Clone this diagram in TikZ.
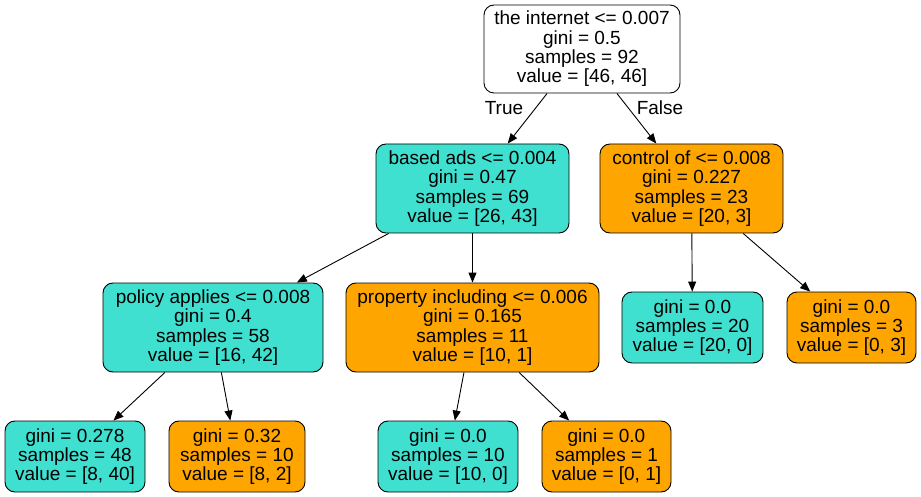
\documentclass[tikz,border=0pt]{standalone}
\usepackage{fontspec}
\setmainfont{Liberation Sans}
\usetikzlibrary{arrows.meta}
\definecolor{turq}{HTML}{40E0D0}
\definecolor{orng}{HTML}{FFA500}
\tikzset{
  tnode/.style={draw=black, line width=0.9pt, rounded corners=10pt, align=center,
    inner sep=0pt, font=\fontsize{19}{19.3}\selectfont},
  turqbox/.style={tnode, fill=turq},
  orngbox/.style={tnode, fill=orng},
  whitebox/.style={tnode, fill=white},
  edge/.style={draw=black, line width=0.9pt, -{Triangle[length=10pt,width=8pt]}},
  elabel/.style={font=\fontsize{19}{19.3}\selectfont}
}
\begin{document}
\begin{tikzpicture}[x=1pt,y=-1pt]
\useasboundingbox[fill=white] (0,0) rectangle (921,497);
\node[whitebox, minimum width=196pt, minimum height=88pt] (root) at (582,49)
  {the internet <= 0.007\\gini = 0.5\\samples = 92\\value = [46, 46]};
\node[turqbox, minimum width=193pt, minimum height=89pt] (ba) at (472.5,188.5)
  {based ads <= 0.004\\gini = 0.47\\samples = 69\\value = [26, 43]};
\node[orngbox, minimum width=183pt, minimum height=89pt] (co) at (691.5,188.5)
  {control of <= 0.008\\gini = 0.227\\samples = 23\\value = [20, 3]};
\node[turqbox, minimum width=220pt, minimum height=89pt] (pa) at (213,327.5)
  {policy applies <= 0.008\\gini = 0.4\\samples = 58\\value = [16, 42]};
\node[orngbox, minimum width=253pt, minimum height=89pt] (pi) at (472.5,327.5)
  {property including <= 0.006\\gini = 0.165\\samples = 11\\value = [10, 1]};
\node[turqbox, minimum width=141pt, minimum height=71pt] (l20) at (692.5,327.5)
  {gini = 0.0\\samples = 20\\value = [20, 0]};
\node[orngbox, minimum width=129pt, minimum height=71pt] (l3) at (851.5,327.5)
  {gini = 0.0\\samples = 3\\value = [0, 3]};
\node[turqbox, minimum width=140pt, minimum height=71pt] (l48) at (75,456.5)
  {gini = 0.278\\samples = 48\\value = [8, 40]};
\node[orngbox, minimum width=136pt, minimum height=71pt] (l10a) at (237,456.5)
  {gini = 0.32\\samples = 10\\value = [8, 2]};
\node[turqbox, minimum width=140pt, minimum height=71pt] (l10b) at (448,456.5)
  {gini = 0.0\\samples = 10\\value = [10, 0]};
\node[orngbox, minimum width=129pt, minimum height=71pt] (l1) at (606.5,456.5)
  {gini = 0.0\\samples = 1\\value = [0, 1]};
\draw[edge] (root) -- (ba);
\draw[edge] (root) -- (co);
\draw[edge] (ba) -- (pa);
\draw[edge] (ba) -- (pi);
\draw[edge] (co) -- (l20);
\draw[edge] (co) -- (l3);
\draw[edge] (pa) -- (l48);
\draw[edge] (pa) -- (l10a);
\draw[edge] (pi) -- (l10b);
\draw[edge] (pi) -- (l1);
\node[elabel] (tlab) at (504,108) {True};
\node[elabel] (flab) at (660,108) {False};
\end{tikzpicture}
\end{document}
